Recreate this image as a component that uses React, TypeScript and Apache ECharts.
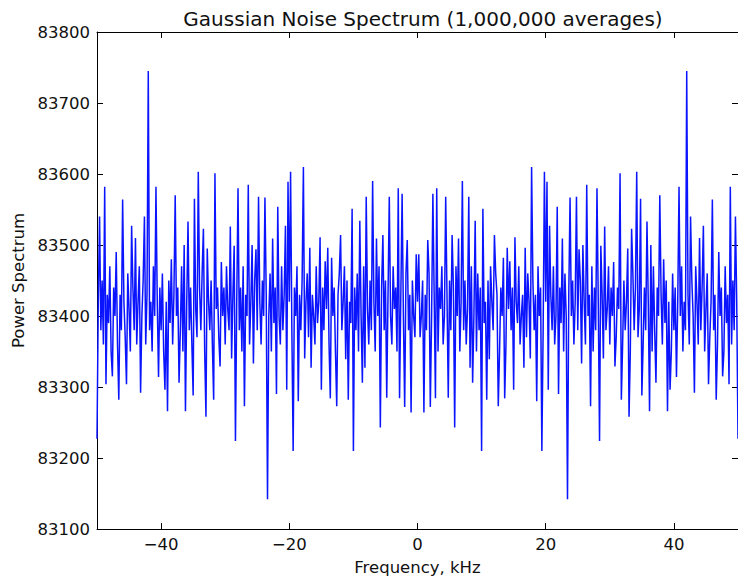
import React, { useEffect, useRef } from "react";
import * as echarts from "echarts";

// Frequency grid (kHz): bins every 0.2 kHz from -50 to 50
const FREQ_MIN_KHZ = -50;
const FREQ_STEP_KHZ = 0.2;

// Power spectrum, negative-frequency half (-50 … -0.2 kHz)
const spectrumNegativeHalf = [
  83227, 83420, 83540, 83380, 83450, 83360, 83582, 83304, 83430, 83390,
  83470, 83350, 83315, 83440, 83400, 83490, 83360, 83282, 83430, 83380,
  83564, 83420, 83370, 83304, 83460, 83410, 83350, 83527, 83440, 83380,
  83510, 83360, 83420, 83470, 83292, 83400, 83450, 83540, 83360, 83430,
  83745, 83380, 83420, 83350, 83470, 83400, 83582, 83420, 83314, 83440,
  83380, 83460, 83350, 83296, 83420, 83266, 83450, 83390, 83480, 83360,
  83430, 83570, 83400, 83440, 83306, 83380, 83470, 83350, 83500, 83266,
  83420, 83533, 83380, 83440, 83360, 83288, 83565, 83410, 83370, 83603,
  83440, 83380, 83460, 83523, 83350, 83258, 83495, 83420, 83380, 83450,
  83360, 83282, 83601, 83410, 83440, 83370, 83329, 83476, 83400, 83440,
  83360, 83470, 83410, 83380, 83526, 83340, 83430, 83499, 83224, 83420,
  83580, 83380, 83440, 83350, 83470, 83273, 83430, 83400, 83585, 83360,
  83420, 83500, 83333, 83450, 83494, 83380, 83568, 83420, 83360, 83450,
  83400, 83567, 83430, 83142, 83400, 83460, 83350, 83509, 83390, 83440,
  83290, 83554, 83400, 83360, 83470, 83380, 83430, 83527, 83296, 83589,
  83420, 83603, 83380, 83210, 83440, 83400, 83470, 83280, 83430, 83380,
  83450, 83610, 83340, 83420, 83460, 83370, 83496, 83327, 83430, 83400,
  83360, 83470, 83390, 83420, 83511, 83296, 83440, 83380, 83477, 83410,
  83496, 83360, 83284, 83482, 83400, 83440, 83350, 83273, 83430, 83460,
  83514, 83380, 83420, 83470, 83339, 83450, 83282, 83420, 83390, 83551,
  83210, 83440, 83380, 83460, 83350, 83534, 83400, 83306, 83470, 83327,
  83568, 83410, 83360, 83450, 83380, 83590, 83420, 83350, 83509, 83400,
  83470, 83243, 83440, 83514, 83380, 83450, 83285, 83430, 83568, 83400,
  83360, 83470, 83410, 83440, 83350, 83580, 83284, 83430, 83572, 83400,
  83272, 83460, 83507, 83380, 83430, 83264, 83450, 83400, 83370, 83487,
];
// Value at 0 kHz
const spectrumAtZero = 83420;
// The spectrum of a real signal is symmetric: positive half mirrors the negative half
const spectrumValues = [
  ...spectrumNegativeHalf,
  spectrumAtZero,
  ...spectrumNegativeHalf.slice().reverse(),
];

const xTickValues = [-40, -20, 0, 20, 40];
const Y_MIN = 83100;
const Y_MAX = 83800;
const Y_STEP = 100;

const FONT = "DejaVu Sans";

export default function App() {
  const ref = useRef<HTMLDivElement>(null);

  useEffect(() => {
    if (!ref.current) return;
    const chart = echarts.init(ref.current, null, { renderer: "svg" });

    const data = spectrumValues.map((v, i) => [
      +(FREQ_MIN_KHZ + i * FREQ_STEP_KHZ).toFixed(2),
      v,
    ]);

    const tickStyle = {
      show: true,
      inside: true,
      length: 6,
      lineStyle: { color: "#000", width: 1 },
    };
    const lineStyle = { show: true, lineStyle: { color: "#000", width: 1 } };
    const labelStyle = {
      color: "#111",
      fontFamily: FONT,
      fontSize: 16.5,
    };

    chart.setOption({
      animation: false,
      backgroundColor: "#fff",
      title: {
        text: "Gaussian Noise Spectrum (1,000,000 averages)",
        left: 418,
        top: 4,
        textAlign: "center",
        textStyle: {
          color: "#111",
          fontFamily: FONT,
          fontSize: 20,
          fontWeight: "normal",
        },
      },
      grid: { left: 97, right: -2, top: 32, bottom: 50, containLabel: false },
      xAxis: [
        {
          type: "value",
          position: "bottom",
          min: FREQ_MIN_KHZ,
          max: -FREQ_MIN_KHZ,
          axisLine: { ...lineStyle, onZero: false },
          axisTick: { ...tickStyle, customValues: xTickValues },
          axisLabel: {
            ...labelStyle,
            margin: 7,
            customValues: xTickValues,
            formatter: (v: number) => String(v).replace("-", "\u2212"),
          },
          splitLine: { show: false },
          name: "Frequency, kHz",
          nameLocation: "middle",
          nameGap: 30,
          nameTextStyle: { color: "#111", fontFamily: FONT, fontSize: 16.5 },
        },
        {
          type: "value",
          position: "top",
          min: FREQ_MIN_KHZ,
          max: -FREQ_MIN_KHZ,
          axisLine: { ...lineStyle, onZero: false },
          axisTick: { ...tickStyle, customValues: xTickValues },
          axisLabel: { show: false },
          splitLine: { show: false },
        },
      ],
      yAxis: [
        {
          type: "value",
          position: "left",
          min: Y_MIN,
          max: Y_MAX,
          interval: Y_STEP,
          axisLine: { ...lineStyle, onZero: false },
          axisTick: tickStyle,
          axisLabel: {
            ...labelStyle,
            margin: 7,
            formatter: (v: number) => String(v),
          },
          splitLine: { show: false },
          name: "Power Spectrum",
          nameLocation: "middle",
          nameGap: 69,
          nameRotate: 90,
          nameTextStyle: { color: "#111", fontFamily: FONT, fontSize: 16.5 },
        },
        {
          type: "value",
          position: "right",
          min: Y_MIN,
          max: Y_MAX,
          interval: Y_STEP,
          axisLine: { ...lineStyle, onZero: false },
          axisTick: tickStyle,
          axisLabel: { show: false },
          splitLine: { show: false },
        },
      ],
      series: [
        {
          type: "line",
          xAxisIndex: 0,
          yAxisIndex: 0,
          data,
          showSymbol: false,
          symbol: "none",
          clip: true,
          lineStyle: { color: "#0a14ff", width: 1.5 },
        },
      ],
    });

    return () => chart.dispose();
  }, []);

  return (
    <div
      ref={ref}
      style={{
        position: "fixed",
        left: 0,
        top: 0,
        width: 738,
        height: 581,
        background: "#fff",
      }}
    />
  );
}
